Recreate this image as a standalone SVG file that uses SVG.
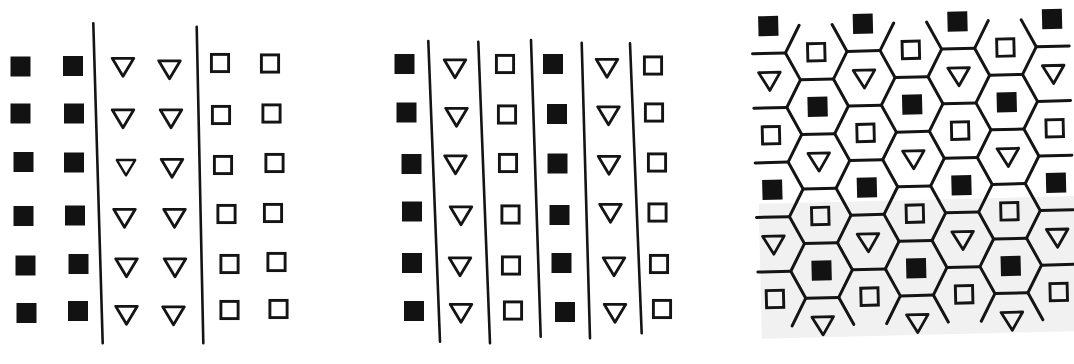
<svg xmlns="http://www.w3.org/2000/svg" xmlns:xlink="http://www.w3.org/1999/xlink" width="1074" height="364" viewBox="0 0 1074 364">
  <style>
    .ln { stroke: #141414; stroke-width: 2.6; fill: none; stroke-linecap: round; }
    .hx { stroke: #141414; stroke-width: 3; fill: none; stroke-linecap: round; stroke-linejoin: round; }
  </style>
  <defs>
    <rect id="fs" x="-10" y="-10" width="20" height="20" fill="#121212"/>
    <rect id="hs" x="-8.6" y="-8.6" width="17.2" height="17.2" fill="none" stroke="#141414" stroke-width="2.9"/>
    <path id="tr" d="M-10.8,-8.2 L10.8,-8.2 L0,9.8 Z" fill="none" stroke="#141414" stroke-width="2.8" stroke-linejoin="round"/>
  </defs>
  <rect x="0" y="0" width="1074" height="364" fill="#ffffff"/>

  <!-- Panel 1 -->
  <g id="panel1">
    <line class="ln" x1="93.3" y1="23.3" x2="102.7" y2="343.3"/>
    <line class="ln" x1="196.7" y1="26.7" x2="203.3" y2="343.3"/>
    <use href="#fs" x="20.5" y="66.5"/><use href="#fs" x="73" y="66"/>
    <use href="#fs" x="20.5" y="113.5"/><use href="#fs" x="74" y="113.5"/>
    <use href="#fs" x="23.5" y="162"/><use href="#fs" x="74" y="162.5"/>
    <use href="#fs" x="23.5" y="216"/><use href="#fs" x="75" y="215.5"/>
    <use href="#fs" x="25.5" y="265.5"/><use href="#fs" x="78.5" y="264"/>
    <use href="#fs" x="26.5" y="313"/><use href="#fs" x="78" y="311"/>

    <use href="#tr" x="123" y="66.5"/><use href="#tr" x="169.5" y="69"/>
    <use href="#tr" x="123" y="118"/><use href="#tr" x="171" y="118"/>
    <g transform="translate(126 167) scale(0.85)"><use href="#tr"/></g><use href="#tr" x="172" y="167.5"/>
    <use href="#tr" x="124.5" y="217.5"/><use href="#tr" x="174.5" y="217.5"/>
    <use href="#tr" x="126.5" y="267"/><use href="#tr" x="175" y="267"/>
    <use href="#tr" x="126.5" y="314.5"/><use href="#tr" x="173.5" y="315"/>

    <use href="#hs" x="220" y="63"/><use href="#hs" x="270" y="63.5"/>
    <use href="#hs" x="221" y="115"/><use href="#hs" x="271.5" y="113.5"/>
    <use href="#hs" x="223" y="165"/><use href="#hs" x="274.5" y="163"/>
    <use href="#hs" x="226.5" y="214"/><use href="#hs" x="273" y="213"/>
    <use href="#hs" x="229.5" y="264"/><use href="#hs" x="276.5" y="262"/>
    <use href="#hs" x="229.5" y="310"/><use href="#hs" x="278.5" y="309"/>
  </g>

  <!-- Panel 2 -->
  <g id="panel2">
    <line class="ln" x1="428.3" y1="41" x2="440" y2="341.7"/>
    <line class="ln" x1="478.3" y1="41.7" x2="490" y2="343.3"/>
    <line class="ln" x1="531" y1="40" x2="540.7" y2="336.7"/>
    <line class="ln" x1="581.7" y1="42.7" x2="590" y2="338.3"/>
    <line class="ln" x1="630" y1="43.3" x2="641.7" y2="333.3"/>

    <use href="#fs" x="404.5" y="64"/><use href="#fs" x="406.5" y="112.5"/><use href="#fs" x="411.5" y="164"/>
    <use href="#fs" x="412" y="211.5"/><use href="#fs" x="412" y="263"/><use href="#fs" x="414" y="311"/>

    <use href="#tr" x="455" y="68"/><use href="#tr" x="456.5" y="116.5"/><use href="#tr" x="455.5" y="164"/>
    <use href="#tr" x="461" y="215"/><use href="#tr" x="460" y="266"/><use href="#tr" x="461" y="312.5"/>

    <use href="#hs" x="505" y="64"/><use href="#hs" x="507" y="114.5"/><use href="#hs" x="508" y="163"/>
    <use href="#hs" x="510.5" y="214.5"/><use href="#hs" x="511" y="265.5"/><use href="#hs" x="513" y="310.5"/>

    <use href="#fs" x="553" y="64"/><use href="#fs" x="557" y="114"/><use href="#fs" x="557.5" y="163.5"/>
    <use href="#fs" x="559.5" y="215"/><use href="#fs" x="561.5" y="263"/><use href="#fs" x="565" y="312"/>

    <use href="#tr" x="607" y="67.5"/><use href="#tr" x="608.5" y="115"/><use href="#tr" x="609" y="164.5"/>
    <use href="#tr" x="610.5" y="212.5"/><use href="#tr" x="614" y="266"/><use href="#tr" x="615" y="312.5"/>

    <use href="#hs" x="653" y="65.5"/><use href="#hs" x="654" y="112.5"/><use href="#hs" x="657" y="162.5"/>
    <use href="#hs" x="657.5" y="212.5"/><use href="#hs" x="659" y="264"/><use href="#hs" x="662" y="309"/>
  </g>

  <!-- Panel 3: hexagonal lattice -->
  <g id="panel3" transform="rotate(-1.4 915 175)">
    <rect x="758" y="200" width="320" height="135" fill="#f1f1f1"/>
    <g id="hex-edges">
      <polyline class="hx" points="802.8,22.5 788.5,49.8 802.8,77.1 788.5,104.4 802.8,131.7 788.5,159 802.8,186.3 788.5,213.6 802.8,240.9 788.5,268.2 802.8,295.5 788.5,322.8"/>
      <polyline class="hx" points="835.8,22.5 850.1,49.8 835.8,77.1 850.1,104.4 835.8,131.7 850.1,159 835.8,186.3 850.1,213.6 835.8,240.9 850.1,268.2 835.8,295.5 850.1,322.8"/>
      <polyline class="hx" points="897.4,22.5 883.1,49.8 897.4,77.1 883.1,104.4 897.4,131.7 883.1,159 897.4,186.3 883.1,213.6 897.4,240.9 883.1,268.2 897.4,295.5 883.1,322.8"/>
      <polyline class="hx" points="930.4,22.5 944.7,49.8 930.4,77.1 944.7,104.4 930.4,131.7 944.7,159 930.4,186.3 944.7,213.6 930.4,240.9 944.7,268.2 930.4,295.5 944.7,322.8"/>
      <polyline class="hx" points="992,22.5 977.7,49.8 992,77.1 977.7,104.4 992,131.7 977.7,159 992,186.3 977.7,213.6 992,240.9 977.7,268.2 992,295.5 977.7,322.8"/>
      <polyline class="hx" points="1025,22.5 1039.3,49.8 1025,77.1 1039.3,104.4 1025,131.7 1039.3,159 1025,186.3 1039.3,213.6 1025,240.9 1039.3,268.2 1025,295.5 1039.3,322.8"/>
      <path class="hx" d="M755.5,49.8H788.5M755.5,104.4H788.5M755.5,159H788.5M755.5,213.6H788.5M755.5,268.2H788.5
        M850.1,49.8H883.1M850.1,104.4H883.1M850.1,159H883.1M850.1,213.6H883.1M850.1,268.2H883.1
        M944.7,49.8H977.7M944.7,104.4H977.7M944.7,159H977.7M944.7,213.6H977.7M944.7,268.2H977.7
        M1039.3,49.8H1072.3M1039.3,104.4H1072.3M1039.3,159H1072.3M1039.3,213.6H1072.3M1039.3,268.2H1072.3
        M802.8,77.1H835.8M802.8,131.7H835.8M802.8,186.3H835.8M802.8,240.9H835.8M802.8,295.5H835.8
        M897.4,77.1H930.4M897.4,131.7H930.4M897.4,186.3H930.4M897.4,240.9H930.4M897.4,295.5H930.4
        M992,77.1H1025M992,131.7H1025M992,186.3H1025M992,240.9H1025M992,295.5H1025"/>
    </g>
    <g id="hex-items">
      <use href="#fs" x="772" y="22.5"/><use href="#tr" x="772" y="77.1"/><use href="#hs" x="772" y="131.7"/>
      <use href="#fs" x="772" y="186.3"/><use href="#tr" x="772" y="240.9"/><use href="#hs" x="772" y="295.5"/>
      <use href="#fs" x="866.6" y="22.5"/><use href="#tr" x="866.6" y="77.1"/><use href="#hs" x="866.6" y="131.7"/>
      <use href="#fs" x="866.6" y="186.3"/><use href="#tr" x="866.6" y="240.9"/><use href="#hs" x="866.6" y="295.5"/>
      <use href="#fs" x="961.2" y="22.5"/><use href="#tr" x="961.2" y="77.1"/><use href="#hs" x="961.2" y="131.7"/>
      <use href="#fs" x="961.2" y="186.3"/><use href="#tr" x="961.2" y="240.9"/><use href="#hs" x="961.2" y="295.5"/>
      <use href="#fs" x="1055.8" y="22.5"/><use href="#tr" x="1055.8" y="77.1"/><use href="#hs" x="1055.8" y="131.7"/>
      <use href="#fs" x="1055.8" y="186.3"/><use href="#tr" x="1055.8" y="240.9"/><use href="#hs" x="1055.8" y="295.5"/>
      <use href="#hs" x="819.3" y="49.8"/><use href="#fs" x="819.3" y="104.4"/><use href="#tr" x="819.3" y="159"/>
      <use href="#hs" x="819.3" y="213.6"/><use href="#fs" x="819.3" y="268.2"/><use href="#tr" x="819.3" y="322.8"/>
      <use href="#hs" x="913.9" y="49.8"/><use href="#fs" x="913.9" y="104.4"/><use href="#tr" x="913.9" y="159"/>
      <use href="#hs" x="913.9" y="213.6"/><use href="#fs" x="913.9" y="268.2"/><use href="#tr" x="913.9" y="322.8"/>
      <use href="#hs" x="1008.5" y="49.8"/><use href="#fs" x="1008.5" y="104.4"/><use href="#tr" x="1008.5" y="159"/>
      <use href="#hs" x="1008.5" y="213.6"/><use href="#fs" x="1008.5" y="268.2"/><use href="#tr" x="1008.5" y="322.8"/>
    </g>
  </g>
</svg>
